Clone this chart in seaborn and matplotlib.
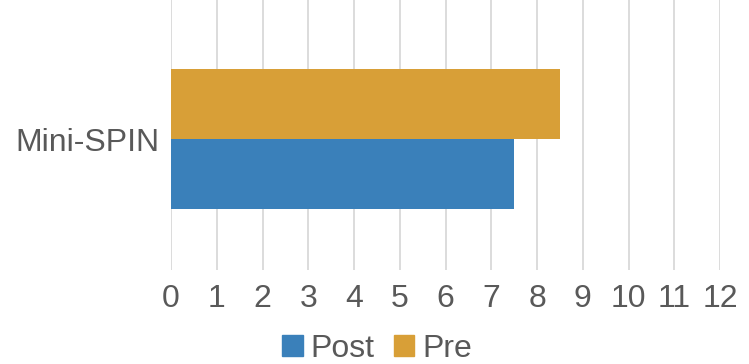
import pandas as pd
import seaborn as sns
import matplotlib.pyplot as plt
from matplotlib.patches import Patch

# data
categories = ["Mini-SPIN"]
pre_values = [8.5]
post_values = [7.5]
x_ticks = list(range(0, 13))

colors = {"Pre": "#D89F37", "Post": "#3A80BA"}
text_color = "#595959"

df = pd.DataFrame({
    "measure": categories * 2,
    "time": ["Pre"] * len(categories) + ["Post"] * len(categories),
    "score": pre_values + post_values,
})

sns.set_style("white")
plt.rcParams["font.family"] = ["Liberation Sans", "DejaVu Sans"]

fig = plt.figure(figsize=(7.49, 3.64), dpi=100)
ax = fig.add_axes([171 / 749, 1 - 270 / 364, (720 - 171) / 749, 270 / 364])

sns.barplot(data=df, x="score", y="measure", hue="time", hue_order=["Pre", "Post"],
            palette=colors, orient="h", width=0.517, ax=ax, legend=False,
            saturation=1, linewidth=0)

ax.set_xlim(0, 12)
ax.set_ylim(0.485, -0.515)
ax.set_xticks(x_ticks)
ax.grid(axis="x", color="#D9D9D9", linewidth=1.3)
ax.set_axisbelow(True)
for s in ax.spines.values():
    s.set_visible(False)
ax.set_xlabel("")
ax.set_ylabel("")
ax.tick_params(axis="both", length=0, labelsize=23, labelcolor=text_color)
ax.tick_params(axis="x", pad=10)
ax.tick_params(axis="y", pad=8)

handles = [Patch(color=colors["Post"], label="Post"), Patch(color=colors["Pre"], label="Pre")]
fig.legend(handles=handles, loc="center", bbox_to_anchor=(377 / 749, 1 - 349 / 364), ncol=2,
           frameon=False, fontsize=23, labelcolor=text_color, handlelength=0.65,
           handleheight=0.65, handletextpad=0.25, columnspacing=0.6,
           borderpad=0, borderaxespad=0)

fig.savefig("out.png", dpi=100)
